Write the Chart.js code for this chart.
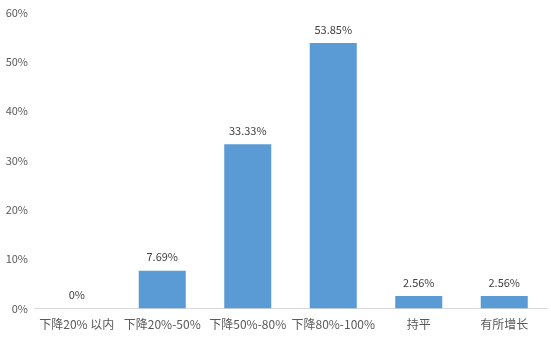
<!DOCTYPE html>
<html>
<head>
<meta charset="utf-8">
<script src="https://cdn.jsdelivr.net/npm/chart.js@4"></script>
<style>
  html, body { margin: 0; padding: 0; background: #fff; }
  #wrap { width: 551px; height: 339px; position: relative; }
</style>
</head>
<body>
<div id="wrap"><canvas id="chart"></canvas></div>
<script>
// categories and values (percent)
const categories = ["下降20% 以内", "下降20%-50%", "下降50%-80%", "下降80%-100%", "持平", "有所增长"];
const shares = [0, 7.69, 33.33, 53.85, 2.56, 2.56];
const yTicks = [0, 10, 20, 30, 40, 50, 60];

const fontFamily = '"Noto Sans CJK SC", "Noto Sans", sans-serif';

// draws the value above each bar
const valueLabels = {
  id: "valueLabels",
  afterDatasetsDraw(chart) {
    const ctx = chart.ctx;
    const meta = chart.getDatasetMeta(0);
    ctx.save();
    ctx.font = "11px " + fontFamily;
    ctx.fillStyle = "#404040";
    ctx.textAlign = "center";
    ctx.textBaseline = "bottom";
    meta.data.forEach((bar, i) => {
      const v = shares[i];
      const text = v === 0 ? "0%" : v.toFixed(2) + "%";
      ctx.fillText(text, bar.x, bar.y - 8);
    });
    ctx.restore();
  }
};

new Chart(document.getElementById("chart"), {
  type: "bar",
  data: {
    labels: categories,
    datasets: [
      {
        data: shares,
        backgroundColor: "#5b9bd5",
        categoryPercentage: 1,
        barPercentage: 0.55,
      },
    ],
  },
  options: {
    responsive: true,
    maintainAspectRatio: false,
    animation: false,
    layout: { padding: { top: 5, right: 4, left: 0, bottom: -2 } },
    plugins: {
      legend: { display: false },
      tooltip: { enabled: false },
    },
    scales: {
      x: {
        grid: { display: false, drawTicks: false },
        border: { color: "#d9d9d9" },
        ticks: {
          color: "#595959",
          font: { family: fontFamily, size: 12 },
          padding: 9,
          maxRotation: 0,
          autoSkip: false,
        },
      },
      y: {
        min: yTicks[0],
        max: yTicks[yTicks.length - 1],
        grid: { display: false, drawTicks: false },
        border: { display: false },
        afterBuildTicks(scale) {
          scale.ticks = yTicks.map((v) => ({ value: v }));
        },
        afterFit(scale) {
          scale.width = 34;
        },
        ticks: {
          color: "#595959",
          font: { family: fontFamily, size: 11 },
          padding: 6,
          callback: (v) => v + "%",
        },
      },
    },
  },
  plugins: [valueLabels],
});
</script>
</body>
</html>
